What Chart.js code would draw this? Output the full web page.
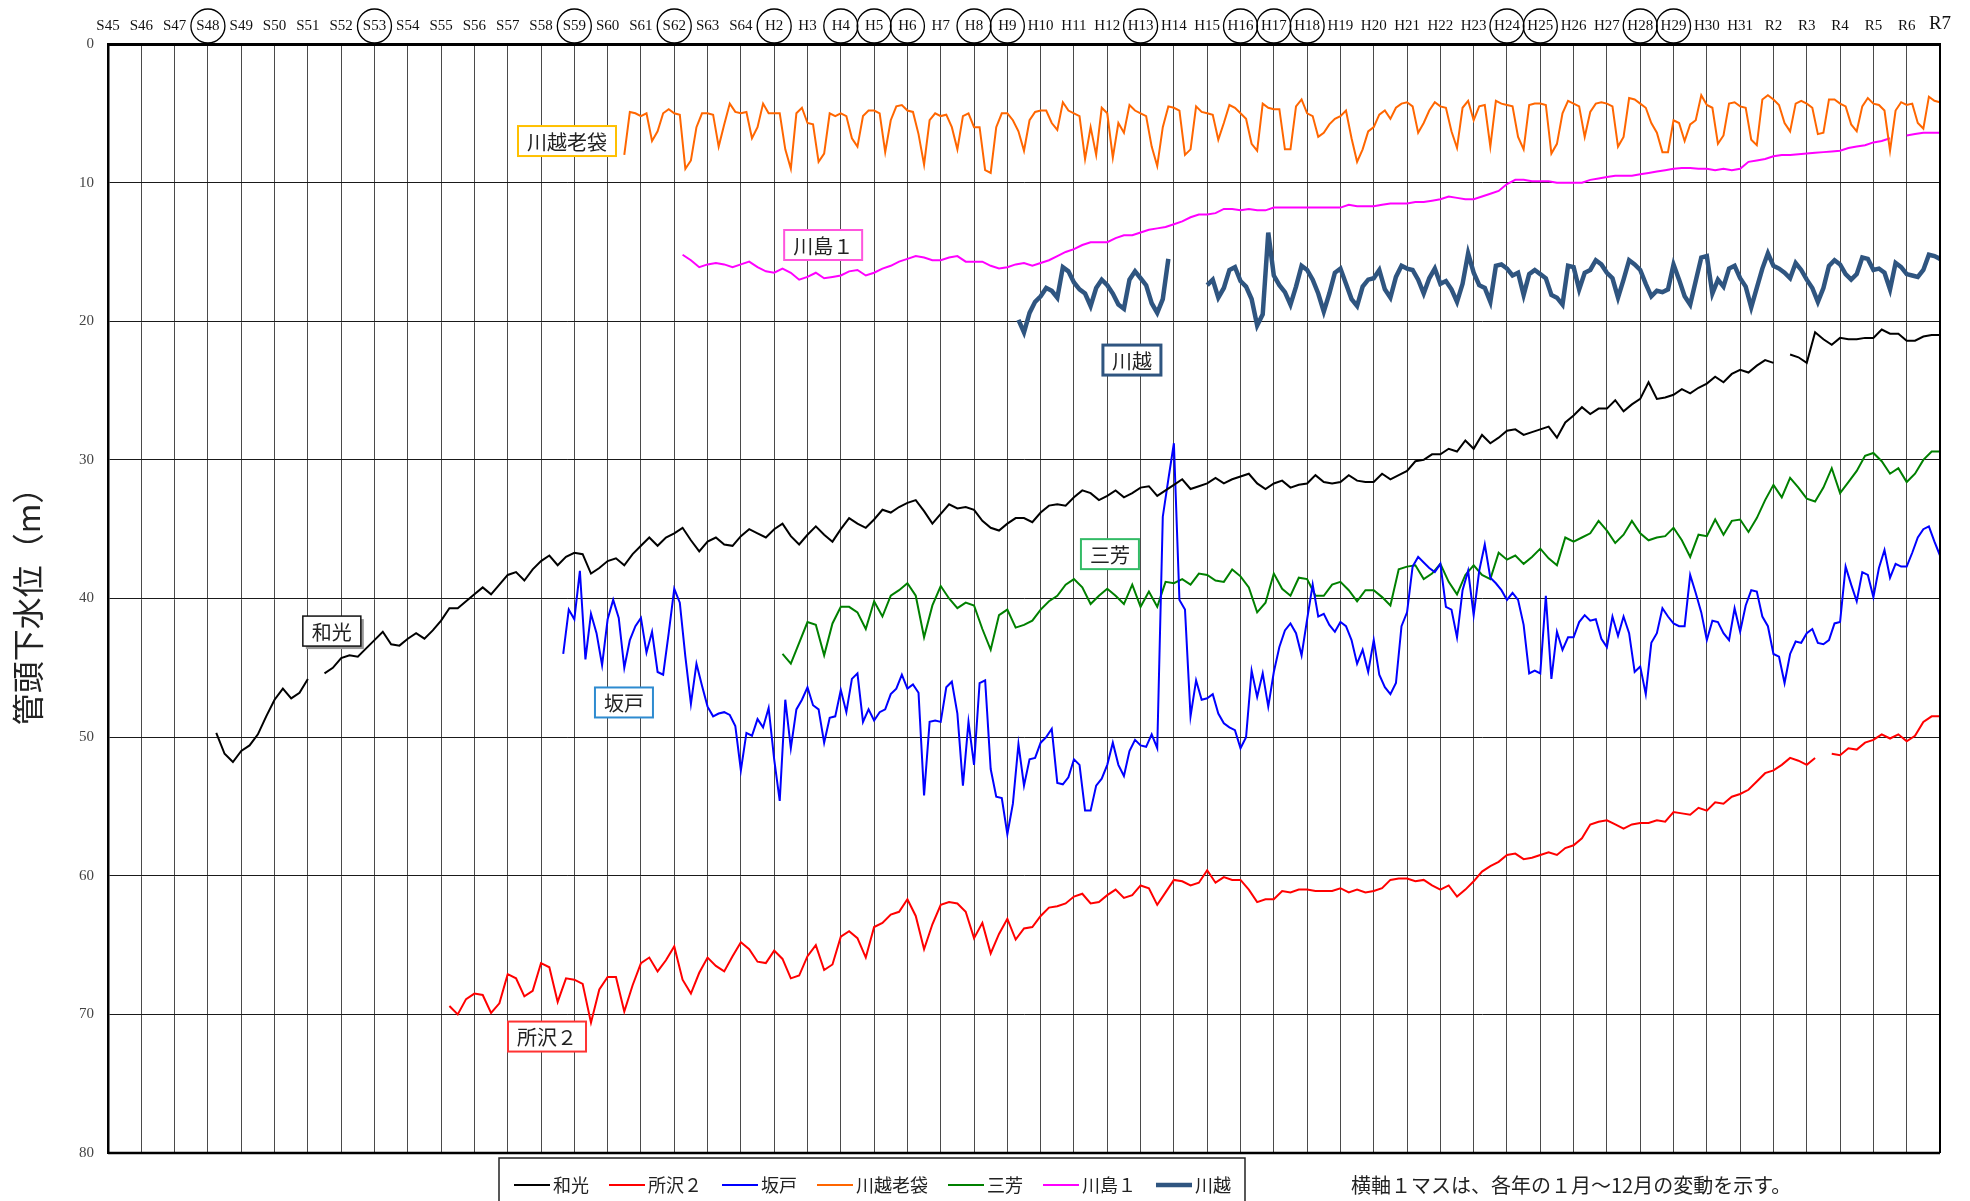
<!DOCTYPE html>
<html>
<head>
<meta charset="utf-8">
<script src="https://cdn.jsdelivr.net/npm/chart.js@4.4.1/dist/chart.umd.min.js"></script>
<style>
  html, body { margin: 0; padding: 0; background: #fff; }
  canvas { display: block; }
</style>
</head>
<body>
<canvas id="levelChart" width="1970" height="1201"></canvas>
<script>
const serifFont = '"Liberation Serif", "DejaVu Serif", serif';
const cjkFont = '"Noto Sans CJK JP", sans-serif';

// one column per calendar year, label sits on the line where the year starts
const firstYear = 1970;
const lastYear = 2025;
const eraLabels = [
  'S45', 'S46', 'S47', 'S48', 'S49', 'S50', 'S51', 'S52', 'S53', 'S54',
  'S55', 'S56', 'S57', 'S58', 'S59', 'S60', 'S61', 'S62', 'S63', 'S64',
  'H2', 'H3', 'H4', 'H5', 'H6', 'H7', 'H8', 'H9', 'H10', 'H11',
  'H12', 'H13', 'H14', 'H15', 'H16', 'H17', 'H18', 'H19', 'H20', 'H21',
  'H22', 'H23', 'H24', 'H25', 'H26', 'H27', 'H28', 'H29', 'H30', 'H31',
  'R2', 'R3', 'R4', 'R5', 'R6', 'R7'
];
const circledEras = ['S48', 'S53', 'S59', 'S62', 'H2', 'H4', 'H5', 'H6', 'H8', 'H9',
  'H13', 'H16', 'H17', 'H18', 'H24', 'H25', 'H28', 'H29'];
const depthTicks = [0, 10, 20, 30, 40, 50, 60, 70, 80];

// 和光 - quarterly readings (Jan, Apr, Jul, Oct) from 1973
const wakoFrom = 1973;
const wako = [
  null, 49.7, 51.2, 51.8,
  51.0, 50.6, 49.8, 48.5,
  47.3, 46.5, 47.2, 46.8,
  45.8, null, 45.4, 45.0,
  44.3, 44.1, 44.2, 43.6,
  43.0, 42.4, 43.3, 43.4,
  42.9, 42.5, 42.9, 42.3,
  41.6, 40.7, 40.7, 40.2,
  39.7, 39.2, 39.7, 39.0,
  38.3, 38.1, 38.7, 37.9,
  37.3, 36.9, 37.6, 37.0,
  36.7, 36.8, 38.2, 37.8,
  37.3, 37.1, 37.6, 36.8,
  36.2, 35.6, 36.2, 35.6,
  35.3, 34.9, 35.8, 36.6,
  35.9, 35.6, 36.1, 36.2,
  35.5, 35.0, 35.3, 35.6,
  35.0, 34.6, 35.5, 36.1,
  35.4, 34.8, 35.4, 35.9,
  35.0, 34.2, 34.6, 34.9,
  34.3, 33.6, 33.8, 33.4,
  33.1, 32.9, 33.7, 34.6,
  33.9, 33.2, 33.5, 33.4,
  33.6, 34.4, 34.9, 35.1,
  34.6, 34.2, 34.2, 34.5,
  33.8, 33.3, 33.2, 33.3,
  32.7, 32.2, 32.4, 32.9,
  32.6, 32.2, 32.7, 32.4,
  32.0, 31.9, 32.6, 32.2,
  31.8, 31.4, 32.1, 31.9,
  31.7, 31.3, 31.7, 31.4,
  31.2, 31.0, 31.7, 32.1,
  31.7, 31.5, 32.0, 31.8,
  31.7, 31.1, 31.6, 31.7,
  31.6, 31.1, 31.5, 31.6,
  31.6, 31.0, 31.4, 31.1,
  30.8, 30.1, 30.0, 29.6,
  29.6, 29.2, 29.4, 28.6,
  29.2, 28.2, 28.8, 28.4,
  27.9, 27.8, 28.2, 28.0,
  27.8, 27.6, 28.4, 27.3,
  26.8, 26.2, 26.7, 26.3,
  26.3, 25.7, 26.5, 26.0,
  25.6, 24.4, 25.6, 25.5,
  25.3, 24.9, 25.2, 24.8,
  24.5, 24.0, 24.4, 23.8,
  23.5, 23.7, 23.2, 22.8,
  23.0, null, 22.4, 22.6,
  23.0, 20.8, 21.3, 21.7,
  21.2, 21.3, 21.3, 21.2,
  21.2, 20.6, 20.9, 20.9,
  21.4, 21.4, 21.1, 21.0,
  21.0
];

// 所沢２ - quarterly readings from 1980
const tokorozawaFrom = 1980;
const tokorozawa = [
  null, 69.4, 70.0, 68.9,
  68.5, 68.6, 69.9, 69.2,
  67.1, 67.4, 68.7, 68.3,
  66.3, 66.6, 69.1, 67.4,
  67.5, 67.8, 70.6, 68.2,
  67.3, 67.3, 69.8, 67.9,
  66.3, 65.9, 66.9, 66.1,
  65.1, 67.5, 68.5, 67.0,
  65.9, 66.5, 66.9, 65.8,
  64.8, 65.3, 66.2, 66.3,
  65.4, 66.0, 67.4, 67.2,
  65.8, 65.0, 66.8, 66.4,
  64.4, 64.0, 64.5, 65.9,
  63.7, 63.4, 62.8, 62.6,
  61.7, 62.9, 65.3, 63.5,
  62.1, 61.9, 62.0, 62.6,
  64.5, 63.4, 65.6, 64.2,
  63.1, 64.6, 63.8, 63.7,
  62.9, 62.3, 62.2, 62.0,
  61.5, 61.3, 62.0, 61.9,
  61.4, 61.0, 61.6, 61.4,
  60.7, 60.9, 62.1, 61.2,
  60.3, 60.4, 60.7, 60.5,
  59.6, 60.5, 60.1, 60.3,
  60.3, 61.0, 61.9, 61.7,
  61.7, 61.1, 61.2, 61.0,
  61.0, 61.1, 61.1, 61.1,
  60.9, 61.2, 61.0, 61.2,
  61.1, 60.9, 60.3, 60.2,
  60.2, 60.4, 60.3, 60.7,
  61.0, 60.7, 61.5, 61.0,
  60.4, 59.7, 59.3, 59.0,
  58.5, 58.4, 58.8, 58.7,
  58.5, 58.3, 58.5, 58.0,
  57.8, 57.3, 56.3, 56.1,
  56.0, 56.3, 56.6, 56.3,
  56.2, 56.2, 56.0, 56.1,
  55.4, 55.5, 55.6, 55.1,
  55.3, 54.7, 54.8, 54.3,
  54.1, 53.8, 53.2, 52.6,
  52.4, 52.0, 51.5, 51.7,
  52.0, 51.5, null, 51.2,
  51.3, 50.8, 50.9, 50.4,
  50.2, 49.8, 50.1, 49.8,
  50.3, 49.9, 48.9, 48.5,
  48.5
];

// 坂戸 - bimonthly readings (Jan, Mar, May, Jul, Sep, Nov) from 1983
const sakadoFrom = 1983;
const sakado = [
  null, null, null, null, 44.0, 40.8,
  41.5, 38.0, 44.4, 41.1, 42.5, 44.8,
  41.5, 40.1, 41.4, 45.0, 43.0, 42.0,
  41.4, 43.9, 42.4, 45.3, 45.5, 42.5,
  39.3, 40.3, 44.2, 47.6, 44.7, 46.3,
  47.8, 48.5, 48.3, 48.2, 48.4, 49.2,
  52.4, 49.7, 49.9, 48.7, 49.3, 47.9,
  51.6, 54.6, 47.3, 50.8, 48.0, 47.3,
  46.4, 47.7, 48.0, 50.4, 48.6, 48.5,
  46.6, 48.2, 45.8, 45.4, 48.9, 48.0,
  48.8, 48.2, 48.0, 46.9, 46.5, 45.5,
  46.5, 46.2, 46.8, 54.2, 48.9, 48.8,
  48.9, 46.4, 46.0, 48.3, 53.5, 48.9,
  52.0, 46.1, 45.9, 52.3, 54.3, 54.4,
  57.0, 54.8, 50.5, 53.5, 51.6, 51.5,
  50.4, 50.0, 49.4, 53.3, 53.4, 52.9,
  51.6, 52.0, 55.3, 55.3, 53.5, 53.0,
  52.0, 50.4, 52.0, 52.8, 51.0, 50.2,
  50.6, 50.7, 49.8, 50.8, 34.1, 31.4,
  28.8, 40.1, 40.8, 48.5, 45.9, 47.3,
  47.2, 46.9, 48.3, 49.0, 49.3, 49.5,
  50.8, 50.0, 45.2, 47.1, 45.4, 47.8,
  45.3, 43.5, 42.3, 41.8, 42.5, 44.1,
  41.5, 39.0, 41.3, 41.1, 41.9, 42.4,
  41.7, 42.0, 43.0, 44.7, 43.7, 45.3,
  43.0, 45.5, 46.4, 46.9, 46.1, 42.0,
  41.0, 37.7, 37.0, 37.4, 37.8, 38.1,
  37.5, 40.6, 40.8, 42.8, 39.4, 38.0,
  41.2, 38.0, 36.1, 38.5, 38.9, 39.4,
  40.1, 39.6, 40.1, 41.9, 45.4, 45.2,
  45.4, 39.8, 45.8, 42.4, 43.7, 42.8,
  42.8, 41.7, 41.2, 41.6, 41.5, 42.9,
  43.5, 41.3, 42.7, 41.3, 42.5, 45.3,
  44.9, 46.9, 43.2, 42.5, 40.7, 41.3,
  41.8, 42.0, 42.0, 38.3, 39.6, 41.0,
  43.0, 41.6, 41.7, 42.5, 43.0, 40.7,
  42.4, 40.5, 39.4, 39.5, 41.3, 42.0,
  44.0, 44.2, 46.1, 44.0, 43.1, 43.2,
  42.5, 42.2, 43.2, 43.3, 43.0, 41.8,
  41.7, 37.7, 39.0, 40.2, 38.1, 38.3,
  39.9, 37.8, 36.5, 38.5, 37.5, 37.7,
  37.7, 36.7, 35.6, 35.0, 34.8, 35.9,
  36.9
];

// 川越老袋 - bimonthly readings from 1985
const oibukuroFrom = 1985;
const oibukuro = [
  null, null, null, 8.0, 4.9, 5.0,
  5.2, 5.0, 7.0, 6.3, 5.0, 4.7,
  5.0, 5.1, 9.0, 8.4, 6.0, 5.0,
  5.0, 5.1, 7.4, 5.8, 4.3, 4.9,
  5.0, 4.9, 6.8, 6.0, 4.3, 5.0,
  5.0, 5.0, 7.6, 9.0, 5.0, 4.6,
  5.7, 5.8, 8.5, 7.9, 5.0, 5.2,
  5.0, 5.2, 6.8, 7.4, 5.2, 4.8,
  4.8, 5.0, 7.8, 5.5, 4.5, 4.4,
  4.8, 4.9, 6.5, 8.7, 5.5, 5.0,
  5.2, 5.1, 6.0, 7.6, 5.2, 5.0,
  6.0, 6.0, 9.1, 9.3, 6.0, 5.0,
  5.0, 5.5, 6.3, 7.7, 5.5, 4.9,
  4.8, 4.8, 5.7, 6.2, 4.2, 4.8,
  5.0, 5.2, 8.3, 6.0, 8.0, 4.6,
  5.0, 8.2, 5.7, 6.4, 4.4, 4.8,
  5.0, 5.2, 7.4, 8.8, 6.0, 4.5,
  4.6, 4.8, 8.0, 7.6, 4.5, 4.9,
  5.0, 5.1, 6.9, 5.7, 4.4, 4.6,
  5.0, 5.4, 7.2, 7.7, 4.3, 4.6,
  4.7, 4.7, 7.6, 7.6, 4.5, 4.0,
  5.0, 5.2, 6.7, 6.4, 5.8, 5.4,
  5.2, 4.8, 6.8, 8.5, 7.6, 6.3,
  6.0, 5.1, 4.8, 5.4, 4.6, 4.3,
  4.2, 4.5, 6.4, 5.7, 4.8, 4.2,
  4.5, 4.6, 6.3, 7.5, 4.6, 4.1,
  5.5, 4.5, 4.4, 7.4, 4.1, 4.3,
  4.4, 4.5, 6.7, 7.6, 4.4, 4.3,
  4.3, 4.4, 7.9, 7.2, 5.0, 4.1,
  4.3, 4.5, 6.7, 4.9, 4.3, 4.2,
  4.3, 4.5, 7.4, 6.7, 3.9, 4.0,
  4.3, 4.6, 5.7, 6.4, 7.8, 7.8,
  5.5, 5.7, 7.0, 5.8, 5.5, 3.7,
  4.4, 4.6, 7.2, 6.6, 4.3, 4.2,
  4.5, 4.6, 6.9, 7.3, 4.0, 3.7,
  4.0, 4.4, 5.7, 6.3, 4.3, 4.1,
  4.3, 4.6, 6.5, 6.4, 4.0, 4.0,
  4.3, 4.5, 5.8, 6.3, 4.5, 3.9,
  4.3, 4.4, 4.8, 7.7, 4.8, 4.2,
  4.4, 4.3, 5.7, 6.1, 3.8, 4.1,
  4.2
];

// 三芳 - quarterly readings from 1990
const miyoshiFrom = 1990;
const miyoshi = [
  null, 44.0, 44.7, 43.2,
  41.7, 41.9, 44.1, 41.8,
  40.6, 40.6, 41.0, 42.2,
  40.2, 41.3, 39.8, 39.4,
  38.9, 39.8, 42.8, 40.5,
  39.1, 40.0, 40.7, 40.3,
  40.5, 42.2, 43.7, 41.2,
  40.8, 42.1, 41.9, 41.6,
  40.8, 40.2, 39.8, 39.0,
  38.6, 39.2, 40.4, 39.8,
  39.3, 39.8, 40.4, 39.0,
  40.6, 39.5, 40.6, 38.8,
  38.9, 38.6, 39.0, 38.2,
  38.3, 38.7, 38.8, 37.9,
  38.4, 39.2, 41.0, 40.3,
  38.2, 39.3, 39.8, 38.5,
  38.6, 39.8, 39.8, 39.0,
  38.8, 39.4, 40.2, 39.4,
  39.4, 39.9, 40.5, 37.9,
  37.7, 37.6, 38.6, 38.2,
  37.5, 38.8, 39.7, 38.3,
  37.6, 38.3, 38.6, 36.7,
  37.2, 36.9, 37.5, 37.0,
  36.4, 37.1, 37.6, 35.6,
  35.9, 35.6, 35.3, 34.4,
  35.1, 36.0, 35.4, 34.4,
  35.3, 35.8, 35.6, 35.5,
  34.9, 35.8, 37.0, 35.4,
  35.5, 34.3, 35.4, 34.4,
  34.3, 35.2, 34.2, 32.9,
  31.8, 32.7, 31.3, 32.0,
  32.8, 33.0, 32.0, 30.6,
  32.4, 31.6, 30.8, 29.7,
  29.5, 30.1, 31.0, 30.6,
  31.6, 31.0, 30.0, 29.4,
  29.4
];

// 川島１ - quarterly readings from 1987
const kawajimaFrom = 1987;
const kawajima = [
  null, 15.2, 15.6, 16.1,
  15.9, 15.8, 15.9, 16.1,
  15.9, 15.7, 16.1, 16.4,
  16.5, 16.2, 16.5, 17.0,
  16.8, 16.5, 16.9, 16.8,
  16.7, 16.4, 16.3, 16.7,
  16.5, 16.2, 16.0, 15.7,
  15.5, 15.3, 15.4, 15.6,
  15.6, 15.4, 15.3, 15.7,
  15.7, 15.7, 16.0, 16.2,
  16.1, 15.9, 15.8, 16.0,
  15.8, 15.6, 15.3, 15.0,
  14.8, 14.5, 14.3, 14.3,
  14.3, 14.0, 13.8, 13.8,
  13.6, 13.4, 13.3, 13.2,
  13.0, 12.8, 12.5, 12.3,
  12.3, 12.2, 11.9, 11.9,
  12.0, 11.9, 12.0, 12.0,
  11.8, 11.8, 11.8, 11.8,
  11.8, 11.8, 11.8, 11.8,
  11.8, 11.6, 11.7, 11.7,
  11.7, 11.6, 11.5, 11.5,
  11.5, 11.4, 11.4, 11.3,
  11.2, 11.0, 11.1, 11.2,
  11.2, 11.0, 10.8, 10.6,
  10.1, 9.8, 9.8, 9.9,
  9.9, 9.9, 10.0, 10.0,
  10.0, 10.0, 9.8, 9.7,
  9.6, 9.5, 9.5, 9.5,
  9.4, 9.3, 9.2, 9.1,
  9.0, 8.95, 8.95, 9.0,
  9.0, 9.1, 9.0, 9.1,
  9.0, 8.5, 8.4, 8.3,
  8.1, 8.0, 8.0, 7.95,
  7.9, 7.85, 7.8, 7.75,
  7.7, 7.5, 7.4, 7.3,
  7.1, 7.0, 6.8, null,
  6.6, 6.5, 6.4, 6.4,
  6.4
];

// 川越 - bimonthly readings from 1997 (no record through 2002)
const kawagoeFrom = 1997;
const kawagoe = [
  null, null, 19.9, 20.8, 19.4, 18.6,
  18.2, 17.6, 17.8, 18.3, 16.1, 16.4,
  17.2, 17.7, 18.0, 18.9, 17.6, 17.0,
  17.4, 18.0, 18.8, 19.1, 17.0, 16.4,
  16.9, 17.4, 18.7, 19.4, 18.4, 15.5,
  null, null, null, null, null, null,
  17.4, 17.0, 18.3, 17.6, 16.3, 16.1,
  17.1, 17.5, 18.4, 20.3, 19.5, 13.6,
  16.7, 17.4, 17.9, 18.8, 17.5, 16.0,
  16.3, 17.0, 18.0, 19.3, 18.0, 16.5,
  16.2, 17.3, 18.4, 18.9, 17.5, 17.0,
  16.9, 16.3, 17.7, 18.3, 16.8, 16.0,
  16.2, 16.3, 17.0, 18.0, 16.9, 16.2,
  17.3, 17.1, 17.7, 18.6, 17.3, 15.1,
  16.5, 17.4, 17.6, 18.6, 16.0, 15.9,
  16.2, 16.7, 16.5, 18.1, 16.6, 16.3,
  16.6, 16.9, 18.1, 18.3, 18.8, 16.0,
  16.1, 17.7, 16.5, 16.3, 15.6, 15.9,
  16.5, 16.9, 18.3, 17.0, 15.6, 15.9,
  16.3, 17.3, 18.2, 17.8, 17.9, 17.7,
  15.9, 17.0, 18.2, 18.8, 17.1, 15.4,
  15.3, 18.0, 17.0, 17.5, 16.2, 16.0,
  16.9, 17.5, 19.0, 17.6, 16.2, 15.1,
  16.0, 16.2, 16.5, 16.9, 15.8, 16.3,
  17.0, 17.6, 18.6, 17.6, 16.0, 15.6,
  15.9, 16.6, 17.0, 16.6, 15.4, 15.5,
  16.3, 16.2, 16.5, 17.7, 15.8, 16.1,
  16.6, 16.7, 16.8, 16.3, 15.2, 15.3,
  15.5
];

// line styles, in legend order
const wells = [
  { name: '和光', from: wakoFrom, perYear: 4, values: wako, color: '#000000', width: 2 },
  { name: '所沢２', from: tokorozawaFrom, perYear: 4, values: tokorozawa, color: '#FF0000', width: 2 },
  { name: '坂戸', from: sakadoFrom, perYear: 6, values: sakado, color: '#0000FF', width: 2 },
  { name: '川越老袋', from: oibukuroFrom, perYear: 6, values: oibukuro, color: '#FF6600', width: 2 },
  { name: '三芳', from: miyoshiFrom, perYear: 4, values: miyoshi, color: '#008000', width: 2 },
  { name: '川島１', from: kawajimaFrom, perYear: 4, values: kawajima, color: '#FF00FF', width: 2 },
  { name: '川越', from: kawagoeFrom, perYear: 6, values: kawagoe, color: '#2F5580', width: 4.5 }
];

// boxed names placed inside the plot, anchored in (year, depth) space
const wellTags = [
  { text: '川越老袋', year: 1983.78, depth: 7.0, border: '#FFC000', lw: 2 },
  { text: '川島１', year: 1991.47, depth: 14.5, border: '#FF55DD', lw: 2 },
  { text: '川越', year: 2000.74, depth: 22.8, border: '#2F5580', lw: 3 },
  { text: '和光', year: 1976.72, depth: 42.35, border: '#111111', lw: 1.5, shadow: true },
  { text: '三芳', year: 2000.08, depth: 36.8, border: '#33BB66', lw: 2 },
  { text: '坂戸', year: 1985.49, depth: 47.5, border: '#2E8BD0', lw: 2 },
  { text: '所沢２', year: 1983.18, depth: 71.6, border: '#FF3333', lw: 2 }
];

const footNote = '横軸１マスは、各年の１月～12月の変動を示す。';

function toPoints(from, perYear, values) {
  return values.map((v, i) => ({ x: from + i / perYear, y: v }));
}

const datasets = wells.map(w => ({
  label: w.name,
  data: toPoints(w.from, w.perYear, w.values),
  borderColor: w.color,
  backgroundColor: w.color,
  borderWidth: w.width,
  pointRadius: 0,
  tension: 0,
  spanGaps: false
}));

// thicker bottom and right edges of the plot
const plotFrame = {
  id: 'plotFrame',
  afterDraw(chart) {
    const { ctx, chartArea: a } = chart;
    ctx.save();
    ctx.strokeStyle = '#000';
    ctx.lineWidth = 2.5;
    ctx.beginPath();
    ctx.moveTo(a.left, a.bottom);
    ctx.lineTo(a.right, a.bottom);
    ctx.stroke();
    ctx.lineWidth = 2;
    ctx.beginPath();
    ctx.moveTo(a.right, a.top);
    ctx.lineTo(a.right, a.bottom);
    ctx.stroke();
    ctx.restore();
  }
};

// ovals round the marked era labels on the top axis
const eraCircles = {
  id: 'eraCircles',
  afterDraw(chart) {
    const xs = chart.scales.x;
    const ctx = chart.ctx;
    ctx.save();
    ctx.strokeStyle = '#000';
    ctx.lineWidth = 1.3;
    eraLabels.forEach((lab, i) => {
      if (!circledEras.includes(lab)) return;
      const px = xs.getPixelForValue(firstYear + i);
      ctx.beginPath();
      ctx.ellipse(px, xs.bottom - 18, 17, 17, 0, 0, Math.PI * 2);
      ctx.stroke();
    });
    ctx.restore();
  }
};

const tagBoxes = {
  id: 'tagBoxes',
  afterDatasetsDraw(chart) {
    const { ctx, scales: { x, y } } = chart;
    ctx.save();
    ctx.font = '20px ' + cjkFont;
    ctx.textAlign = 'center';
    ctx.textBaseline = 'middle';
    wellTags.forEach(t => {
      const cx = x.getPixelForValue(t.year);
      const cy = y.getPixelForValue(t.depth);
      const w = ctx.measureText(t.text).width + 18;
      const h = 30;
      if (t.shadow) {
        ctx.fillStyle = '#999';
        ctx.fillRect(cx - w / 2 + 3, cy - h / 2 + 3, w, h);
      }
      ctx.fillStyle = '#fff';
      ctx.fillRect(cx - w / 2, cy - h / 2, w, h);
      ctx.strokeStyle = t.border;
      ctx.lineWidth = t.lw;
      ctx.strokeRect(cx - w / 2, cy - h / 2, w, h);
      ctx.fillStyle = '#222';
      ctx.fillText(t.text, cx, cy + 1);
    });
    ctx.restore();
  }
};

// boxed legend under the plot plus the note on the right
const boxLegend = {
  id: 'boxLegend',
  afterDraw(chart) {
    const { ctx, chartArea } = chart;
    const top = chartArea.bottom + 5;
    const left = 499;
    const midY = top + 27;
    ctx.save();
    ctx.font = '18px ' + cjkFont;
    ctx.textBaseline = 'middle';
    ctx.textAlign = 'left';
    let px = left + 15;
    chart.data.datasets.forEach(ds => {
      ctx.strokeStyle = ds.borderColor;
      ctx.lineWidth = ds.borderWidth;
      ctx.beginPath();
      ctx.moveTo(px, midY);
      ctx.lineTo(px + 36, midY);
      ctx.stroke();
      px += 39;
      ctx.fillStyle = '#222';
      ctx.fillText(ds.label, px, midY);
      px += ctx.measureText(ds.label).width + 20;
    });
    const right = px - 20 + 14;
    ctx.strokeStyle = '#222';
    ctx.lineWidth = 1.5;
    ctx.strokeRect(left, top, right - left, 60);
    ctx.font = '20px ' + cjkFont;
    ctx.fillStyle = '#222';
    ctx.fillText(footNote, 1351, midY);
    ctx.restore();
  }
};

new Chart(document.getElementById('levelChart'), {
  type: 'line',
  data: { datasets },
  options: {
    responsive: false,
    animation: false,
    events: [],
    layout: { padding: { left: 0, right: 30, top: 0, bottom: 48 } },
    plugins: {
      legend: { display: false },
      tooltip: { enabled: false }
    },
    scales: {
      x: {
        type: 'linear',
        position: 'top',
        min: firstYear,
        max: lastYear,
        afterFit: s => { s.height = 44; },
        afterBuildTicks: s => { s.ticks = eraLabels.map((_, i) => ({ value: firstYear + i })); },
        grid: { color: '#4a4a4a', lineWidth: 1, drawTicks: false },
        border: { color: '#000', width: 3 },
        ticks: {
          autoSkip: false,
          maxRotation: 0,
          minRotation: 0,
          padding: 9,
          color: '#111',
          font: c => ({ family: serifFont, size: c.index === eraLabels.length - 1 ? 19 : 15 }),
          callback: v => eraLabels[Math.round(v) - firstYear]
        }
      },
      y: {
        type: 'linear',
        reverse: true,
        min: 0,
        max: 80,
        afterFit: s => { s.width = 108; },
        afterBuildTicks: s => { s.ticks = depthTicks.map(v => ({ value: v })); },
        grid: { color: '#1a1a1a', lineWidth: 1, drawTicks: false },
        border: { color: '#000', width: 2.5 },
        ticks: {
          padding: 14,
          color: '#444',
          font: { family: serifFont, size: 15 }
        },
        title: {
          display: true,
          text: '管頭下水位（m）',
          color: '#222',
          font: { family: cjkFont, size: 32 },
          padding: { top: 9, bottom: 0 }
        }
      }
    }
  },
  plugins: [plotFrame, eraCircles, tagBoxes, boxLegend]
});
</script>
</body>
</html>
